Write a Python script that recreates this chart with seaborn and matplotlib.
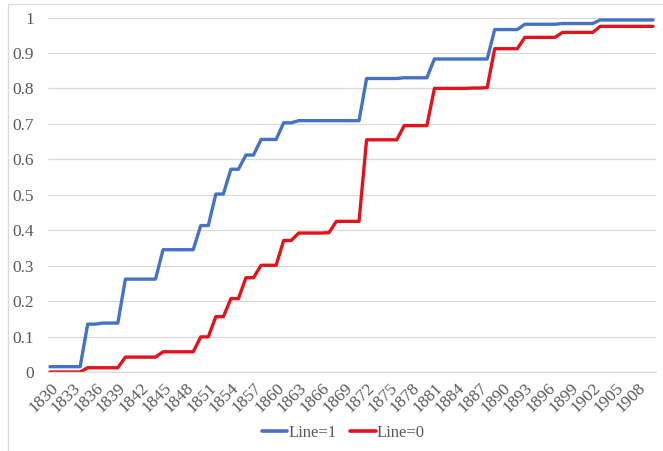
import numpy as np
import pandas as pd
import matplotlib
matplotlib.use("Agg")
import matplotlib.pyplot as plt
import seaborn as sns
from matplotlib.patches import Rectangle

years = list(range(1830, 1911))

line1 = [0.015, 0.015, 0.015, 0.015, 0.015,
         0.135, 0.135, 0.138, 0.138, 0.138,
         0.262, 0.262, 0.262, 0.262, 0.262,
         0.345, 0.345, 0.345, 0.345, 0.345,
         0.413, 0.413, 0.502, 0.502, 0.572, 0.572, 0.612, 0.612,
         0.656, 0.656, 0.656, 0.703, 0.703,
         0.709, 0.709, 0.709, 0.709, 0.709, 0.709, 0.709, 0.709, 0.709,
         0.828, 0.828, 0.828, 0.828, 0.828, 0.830, 0.830, 0.830, 0.830,
         0.883, 0.883, 0.883, 0.883, 0.883, 0.883, 0.883, 0.883,
         0.966, 0.966, 0.966, 0.966,
         0.981, 0.981, 0.981, 0.981, 0.981,
         0.983, 0.983, 0.983, 0.983, 0.983,
         0.993, 0.993, 0.993, 0.993, 0.993, 0.993, 0.993, 0.993]

line0 = [0.0, 0.0, 0.0, 0.0, 0.0,
         0.012, 0.012, 0.012, 0.012, 0.012,
         0.042, 0.042, 0.042, 0.042, 0.042,
         0.057, 0.057, 0.057, 0.057, 0.057,
         0.099, 0.099, 0.156, 0.156, 0.207, 0.207, 0.266, 0.266,
         0.301, 0.301, 0.301, 0.371, 0.371,
         0.392, 0.392, 0.392, 0.392, 0.393, 0.425, 0.425, 0.425, 0.425,
         0.655, 0.655, 0.655, 0.655, 0.655, 0.695, 0.695, 0.695, 0.695,
         0.800, 0.800, 0.800, 0.800, 0.800, 0.801, 0.801, 0.802,
         0.912, 0.912, 0.912, 0.912,
         0.944, 0.944, 0.944, 0.944, 0.944,
         0.958, 0.958, 0.958, 0.958, 0.958,
         0.975, 0.975, 0.975, 0.975, 0.975, 0.975, 0.975, 0.975]

series_names = ["Line=1", "Line=0"]
colors = {"Line=1": "#4472C4", "Line=0": "#E3121B"}

df = pd.concat([
    pd.DataFrame({"year": years, "value": line1, "series": "Line=1"}),
    pd.DataFrame({"year": years, "value": line0, "series": "Line=0"}),
])

sns.set_theme(style="white")
plt.rcParams["font.family"] = ["Liberation Serif", "DejaVu Serif"]

fig = plt.figure(figsize=(6.63, 4.51), dpi=100)
W, H = 663, 451
ax = fig.add_axes([48 / W, 1 - 372 / H, (656 - 48) / W, (372 - 17.5) / H])

sns.lineplot(data=df, x="year", y="value", hue="series", hue_order=series_names,
             palette=colors, linewidth=2.4, ax=ax, legend=True)

ax.set_xlim(1830 - 2 / 7.54, 1910 + 3 / 7.54)
ax.set_ylim(0, 1)
yt = np.round(np.arange(0, 1.01, 0.1), 1)
ax.set_yticks(yt)
ax.set_yticklabels(["0" if v == 0 else ("1" if v == 1 else f"{v:.1f}") for v in yt])
ax.set_xticks(years[::3])
ax.set_xticklabels([str(y) for y in years[::3]], rotation=45, ha="right",
                   rotation_mode="anchor")
ax.tick_params(axis="both", length=0, labelsize=12.5, colors="#595959")
ax.tick_params(axis="y", pad=10)
ax.tick_params(axis="x", pad=6)
ax.grid(axis="y", color="#D9D9D9", linewidth=0.9)
ax.set_axisbelow(True)
for s in ["top", "right", "left"]:
    ax.spines[s].set_visible(False)
ax.spines["bottom"].set_color("#D9D9D9")
ax.spines["bottom"].set_linewidth(0.9)
ax.set_xlabel("")
ax.set_ylabel("")

handles, labels = ax.get_legend_handles_labels()
ax.legend_.remove()
for h in handles:
    h.set_linewidth(2.6)
fig.legend(handles, labels, loc="center", bbox_to_anchor=(343 / W, 1 - 433 / H),
           ncol=2, frameon=False, fontsize=12, handlelength=1.55,
           handletextpad=0.05, columnspacing=0.8, labelcolor="#595959")

# chart area border
fig.patches.append(Rectangle((8 / W, -0.05), 1.1, 1 - 4 / H + 0.05,
                             transform=fig.transFigure, fill=False,
                             edgecolor="#D9D9D9", linewidth=0.9))

fig.savefig("out.png", dpi=100)
